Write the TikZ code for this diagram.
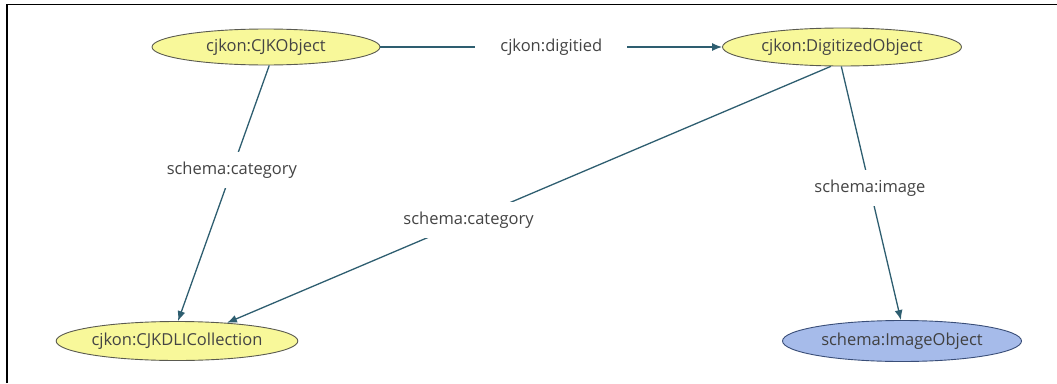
\documentclass[tikz,border=0pt]{standalone}
\usepackage{fontspec}
\setmainfont{Open Sans}
\usetikzlibrary{shapes.geometric,arrows.meta}
\definecolor{edgec}{HTML}{2E5E70}
\definecolor{txtc}{HTML}{444444}
\definecolor{yel}{HTML}{F8F89A}
\definecolor{blu}{HTML}{A6BBEA}
\definecolor{ybord}{HTML}{5A5A50}
\definecolor{bbord}{HTML}{3A4E78}
\tikzset{
  cls/.style={ellipse, draw=ybord, line width=0.9pt, fill=yel, inner sep=0pt,
    font=\fontsize{16.5}{18}\selectfont, text=txtc},
  img/.style={cls, fill=blu, draw=bbord, text=black!75},
  rel/.style={draw=edgec, line width=1.3pt, -{Latex[length=10pt,width=8pt]}},
  lab/.style={fill=white, inner xsep=25pt, inner ysep=10pt, font=\fontsize{16.5}{18}\selectfont, text=txtc}
}
\begin{document}
\begin{tikzpicture}[x=1pt,y=-1pt]
\useasboundingbox (0,0) rectangle (1057,383);
\draw[line width=1.6pt] (7,383) -- (7,4.5) -- (1057,4.5);
\node[cls, minimum width=228pt, minimum height=36pt] (cjko) at (266,47) {cjkon:CJKObject};
\node[cls, minimum width=239pt, minimum height=38pt] (dig) at (842,47) {cjkon:DigitizedObject};
\node[cls, minimum width=238pt, minimum height=39pt] (coll) at (177,341) {cjkon:CJKDLICollection};
\node[img, minimum width=239pt, minimum height=41pt] (imgo) at (902,341) {schema:ImageObject};
\draw[rel] (cjko.east) -- node[lab] (l1) {cjkon:digitied} (dig.west);
\draw[rel] (cjko.-80) -- node[lab, pos=0.41] (l2) {schema:category} (coll.87);
\draw[rel] (dig.-120) -- node[lab, pos=0.6] (l3) {schema:category} (coll.20);
\draw[rel] (dig.-92) -- node[lab, pos=0.48] (l4) {schema:image} (imgo.93);
\end{tikzpicture}
\end{document}
